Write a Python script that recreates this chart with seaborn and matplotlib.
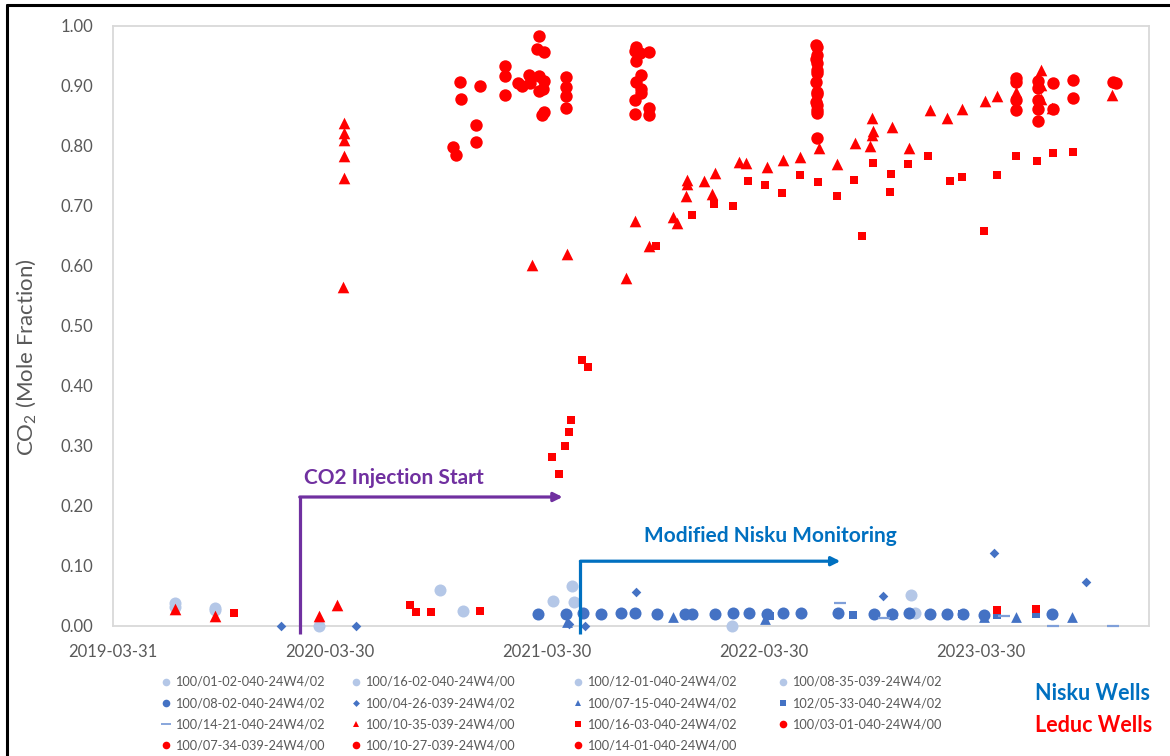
import matplotlib
matplotlib.use("Agg")
import matplotlib.pyplot as plt
from matplotlib.lines import Line2D
from matplotlib.ticker import FuncFormatter
import seaborn as sns
import pandas as pd
import numpy as np

# ---------------- data ----------------
# Nisku wells
W0102_D = ["2019-07-14", "2019-09-18", "2020-10-01", "2021-04-09", "2022-12-02"]
W0102_V = [0.038, 0.030, 0.060, 0.042, 0.052]
W1602_D = ["2019-07-14", "2019-09-18", "2020-11-08", "2021-05-11", "2022-12-09"]
W1602_V = [0.032, 0.027, 0.025, 0.067, 0.022]
W1201_D = ["2020-03-11", "2021-05-14"]
W1201_V = [0.000, 0.040]
W0835_D = ["2022-02-04"]
W0835_V = [0.000]
W0802_D = ["2021-03-14", "2021-05-01", "2021-05-30", "2021-06-28", "2021-08-02", "2021-08-24",
           "2021-10-01", "2021-11-16", "2021-11-28", "2022-01-06", "2022-02-06", "2022-03-04",
           "2022-04-04", "2022-05-01", "2022-05-31", "2022-08-01", "2022-10-01", "2022-10-31",
           "2022-11-28", "2023-01-03", "2023-02-01", "2023-02-28", "2023-04-04", "2023-07-27"]
W0802_V = [0.020, 0.020, 0.021, 0.020, 0.021, 0.021, 0.020, 0.020, 0.020, 0.020, 0.021, 0.021,
           0.020, 0.021, 0.021, 0.022, 0.020, 0.020, 0.021, 0.020, 0.020, 0.020, 0.019, 0.020]
W0426_D = ["2020-01-07", "2020-05-13", "2021-05-06", "2021-06-01", "2021-08-26", "2022-10-16",
           "2023-04-20", "2023-09-22"]
W0426_V = [0.000, 0.000, 0.003, 0.000, 0.057, 0.050, 0.122, 0.073]
W0715_D = ["2021-05-03", "2021-10-28", "2022-04-01", "2022-10-31", "2023-04-04", "2023-05-27",
           "2023-08-30"]
W0715_V = [0.007, 0.015, 0.012, 0.022, 0.015, 0.015, 0.015]
W0533_D = ["2022-04-08", "2022-08-01", "2022-08-26", "2023-02-26", "2023-04-25", "2023-06-30"]
W0533_V = [0.017, 0.022, 0.018, 0.020, 0.018, 0.020]
W1421_D = ["2022-08-04", "2022-10-18", "2023-05-08", "2023-07-29", "2023-11-07"]
W1421_V = [0.038, 0.013, 0.017, 0.000, 0.000]

# Leduc wells
W1035_D = ["2019-07-14", "2019-09-18", "2020-03-11", "2020-04-10",
           "2020-04-22", "2020-04-22", "2020-04-22", "2020-04-22", "2020-04-22", "2020-04-21",
           "2021-03-04", "2021-05-03", "2021-08-10", "2021-08-24", "2021-09-18", "2021-10-27",
           "2021-11-03", "2021-11-21", "2021-11-20", "2021-11-18", "2021-12-18", "2022-01-06",
           "2022-01-01", "2022-02-16", "2022-02-28", "2022-04-03", "2022-05-01", "2022-05-30",
           "2022-06-30", "2022-07-31", "2022-08-30", "2022-09-24", "2022-09-28", "2022-09-29",
           "2022-09-28", "2022-10-31", "2022-11-28", "2023-01-03", "2023-02-01", "2023-02-26",
           "2023-04-06", "2023-04-26", "2023-05-28", "2023-07-08", "2023-07-08", "2023-07-08",
           "2023-07-27", "2023-11-04"]
W1035_V = [0.028, 0.017, 0.017, 0.035,
           0.838, 0.822, 0.810, 0.783, 0.747, 0.565,
           0.602, 0.620, 0.580, 0.675, 0.634, 0.682,
           0.672, 0.743, 0.737, 0.717, 0.742, 0.755,
           0.720, 0.773, 0.772, 0.765, 0.777, 0.782,
           0.797, 0.770, 0.805, 0.800, 0.847, 0.825,
           0.818, 0.832, 0.797, 0.860, 0.847, 0.861,
           0.875, 0.883, 0.890, 0.927, 0.902, 0.878,
           0.863, 0.885]
W1603_D = ["2019-10-21", "2020-08-11", "2020-08-21", "2020-09-15", "2020-12-07", "2021-04-08",
           "2021-04-19", "2021-04-29", "2021-05-06", "2021-05-09", "2021-05-28", "2021-06-07",
           "2021-09-29", "2021-11-29", "2022-01-04", "2022-02-06", "2022-03-03", "2022-04-01",
           "2022-04-29", "2022-05-29", "2022-06-29", "2022-07-31", "2022-08-28", "2022-09-11",
           "2022-09-29", "2022-10-29", "2022-10-27", "2022-11-26", "2022-12-31", "2023-02-05",
           "2023-02-26", "2023-04-04", "2023-04-26", "2023-04-25", "2023-05-27", "2023-07-01",
           "2023-06-30", "2023-07-29", "2023-08-31"]
W1603_V = [0.022, 0.035, 0.023, 0.023, 0.025, 0.282,
           0.253, 0.300, 0.323, 0.343, 0.443, 0.432,
           0.633, 0.685, 0.703, 0.700, 0.742, 0.735,
           0.722, 0.752, 0.740, 0.717, 0.743, 0.650,
           0.772, 0.753, 0.723, 0.770, 0.783, 0.742,
           0.748, 0.658, 0.752, 0.027, 0.783, 0.775,
           0.028, 0.788, 0.790]
W0301_D = ["2022-06-25", "2022-06-27", "2022-06-26", "2022-06-25", "2022-06-26", "2022-06-27",
           "2022-06-26", "2022-06-25", "2022-06-26", "2022-06-27", "2022-06-25", "2022-06-27",
           "2022-06-26", "2022-06-27", "2022-06-27",
           "2023-05-28", "2023-05-28", "2023-05-28", "2023-05-28", "2023-07-03", "2023-07-03",
           "2023-07-03", "2023-07-03", "2023-07-03", "2023-07-29", "2023-07-29", "2023-09-01",
           "2023-09-01", "2023-11-07", "2023-11-12"]
W0301_V = [0.968, 0.965, 0.952, 0.945, 0.938, 0.927,
           0.921, 0.907, 0.890, 0.887, 0.873, 0.868,
           0.860, 0.855, 0.813,
           0.913, 0.907, 0.877, 0.860, 0.908, 0.897,
           0.877, 0.862, 0.842, 0.905, 0.862, 0.910,
           0.880, 0.907, 0.905]
W0734_D = ["2020-10-22", "2020-10-27", "2020-11-03", "2020-11-05", "2020-11-30", "2020-11-30",
           "2020-12-07", "2021-01-18", "2021-01-18", "2021-01-18", "2021-02-09", "2021-02-16",
           "2021-02-27", "2021-03-01"]
W0734_V = [0.798, 0.785, 0.907, 0.878, 0.835, 0.807,
           0.900, 0.933, 0.917, 0.885, 0.905, 0.900,
           0.918, 0.905]
W1027_D = ["2021-03-16", "2021-03-16", "2021-03-16", "2021-03-13", "2021-03-25", "2021-03-25",
           "2021-03-25", "2021-03-23", "2021-03-21", "2021-05-01", "2021-05-01", "2021-05-01",
           "2021-05-01"]
W1027_V = [0.983, 0.917, 0.892, 0.962, 0.957, 0.908,
           0.857, 0.895, 0.852, 0.915, 0.898, 0.883,
           0.863]
W1401_D = ["2021-08-24", "2021-08-24", "2021-08-24", "2021-08-26", "2021-08-26", "2021-08-26",
           "2021-09-02", "2021-09-03", "2021-09-03", "2021-09-03", "2021-09-17", "2021-09-18",
           "2021-09-18"]
W1401_V = [0.958, 0.877, 0.853, 0.965, 0.942, 0.907,
           0.955, 0.918, 0.895, 0.888, 0.863, 0.957,
           0.852]

WELL_NAMES = ["100/01-02-040-24W4/02", "100/16-02-040-24W4/00", "100/12-01-040-24W4/02",
              "100/08-35-039-24W4/02", "100/08-02-040-24W4/02", "100/04-26-039-24W4/02",
              "100/07-15-040-24W4/02", "102/05-33-040-24W4/02", "100/14-21-040-24W4/02",
              "100/10-35-039-24W4/00", "100/16-03-040-24W4/02", "100/03-01-040-24W4/00",
              "100/07-34-039-24W4/00", "100/10-27-039-24W4/00", "100/14-01-040-24W4/00"]
WELL_DATES = [W0102_D, W1602_D, W1201_D, W0835_D, W0802_D, W0426_D, W0715_D, W0533_D, W1421_D,
              W1035_D, W1603_D, W0301_D, W0734_D, W1027_D, W1401_D]
WELL_VALUES = [W0102_V, W1602_V, W1201_V, W0835_V, W0802_V, W0426_V, W0715_V, W0533_V, W1421_V,
               W1035_V, W1603_V, W0301_V, W0734_V, W1027_V, W1401_V]

X_TICKS = ["2019-03-31", "2020-03-30", "2021-03-30", "2022-03-30", "2023-03-30"]
X_MIN, X_MAX = "2019-03-31", "2024-01-06"
Y_TICKS = [0.0, 0.1, 0.2, 0.3, 0.4, 0.5, 0.6, 0.7, 0.8, 0.9, 1.0]

# ---------------- styles ----------------
LIGHT = "#B4C7E7"
DARK = "#4472C4"
DASH = "#7F9FD9"
RED = "#FF0000"
PURPLE = "#7030A0"
BLUE = "#0070C0"
GREY = "#595959"

STYLE = [
    dict(marker="o", color=LIGHT, s=75, lms=5.5),
    dict(marker="o", color=LIGHT, s=75, lms=5.5),
    dict(marker="o", color=LIGHT, s=75, lms=5.5),
    dict(marker="o", color=LIGHT, s=75, lms=5.5),
    dict(marker="o", color=DARK, s=75, lms=5.5),
    dict(marker="D", color=DARK, s=24, lms=3.5),
    dict(marker="^", color=DARK, s=60, lms=5),
    dict(marker="s", color=DARK, s=40, lms=5),
    dict(marker="_", color=DASH, s=80, lms=7),
    dict(marker="^", color=RED, s=70, lms=5),
    dict(marker="s", color=RED, s=34, lms=4.5),
    dict(marker="o", color=RED, s=80, lms=5.5),
    dict(marker="o", color=RED, s=80, lms=5.5),
    dict(marker="o", color=RED, s=80, lms=5.5),
    dict(marker="o", color=RED, s=80, lms=5.5),
]

sns.set_theme(style="white")
plt.rcParams["font.family"] = ["Lato", "DejaVu Sans"]

W, H = 1170, 756
fig = plt.figure(figsize=(W / 100, H / 100), dpi=100)
fig.patch.set_facecolor("white")
ax = fig.add_axes([113 / W, 130 / H, 1036 / W, 600 / H])

for name, d, v, st in zip(WELL_NAMES, WELL_DATES, WELL_VALUES, STYLE):
    df = pd.DataFrame({"date": pd.to_datetime(d), "co2": v})
    kw = dict(linewidth=0)
    if st["marker"] == "_":
        kw = dict(linewidth=1.6, edgecolor=st["color"])
    sns.scatterplot(data=df, x="date", y="co2", marker=st["marker"], color=st["color"],
                    s=st["s"], ax=ax, legend=False, clip_on=False, zorder=3, **kw)

ax.set_xlim(pd.Timestamp(X_MIN), pd.Timestamp(X_MAX))
ax.set_ylim(0, 1.0)
ax.set_yticks(Y_TICKS)
ax.yaxis.set_major_formatter(FuncFormatter(lambda v, p: f"{v:.2f}"))
ax.set_xticks(pd.to_datetime(X_TICKS))
ax.set_xticklabels(X_TICKS)
ax.tick_params(axis="both", length=0, colors=GREY, labelsize=12)
ax.tick_params(axis="y", pad=14)
ax.tick_params(axis="x", pad=13)
ax.grid(False)
for sp in ax.spines.values():
    sp.set_color("#D9D9D9")
    sp.set_linewidth(1.3)
ax.set_xlabel("")
ax.set_ylabel("CO$_\\mathregular{2}$ (Mole Fraction)", fontsize=16, color=GREY)
ax.yaxis.set_label_coords(-74 / 1036, 0.448)

# ---------------- annotations ----------------
INJ_X, INJ_END, INJ_Y, INJ_TXT = pd.Timestamp("2020-02-08"), pd.Timestamp("2021-04-25"), 0.215, pd.Timestamp("2020-02-16")
MON_X, MON_END, MON_Y, MON_TXT = pd.Timestamp("2021-05-25"), pd.Timestamp("2022-08-05"), 0.108, pd.Timestamp("2021-09-09")

ax.plot([INJ_X, INJ_X], [-0.013, INJ_Y + 0.002], color=PURPLE, lw=2.3, clip_on=False,
        solid_capstyle="butt", zorder=4)
ax.annotate("", xy=(INJ_END, INJ_Y), xytext=(INJ_X, INJ_Y),
            arrowprops=dict(arrowstyle="-|>", color=PURPLE, lw=2.3, mutation_scale=13,
                            shrinkA=0, shrinkB=0), zorder=4)
ax.text(INJ_TXT, 0.247, "CO2 Injection Start", color=PURPLE, fontsize=15,
        fontweight="bold", va="center", ha="left")

ax.plot([MON_X, MON_X], [-0.013, MON_Y + 0.002], color=BLUE, lw=2.3, clip_on=False,
        solid_capstyle="butt", zorder=4)
ax.annotate("", xy=(MON_END, MON_Y), xytext=(MON_X, MON_Y),
            arrowprops=dict(arrowstyle="-|>", color=BLUE, lw=2.3, mutation_scale=13,
                            shrinkA=0, shrinkB=0), zorder=4)
ax.text(MON_TXT, 0.150, "Modified Nisku Monitoring", color=BLUE, fontsize=15,
        fontweight="bold", va="center", ha="left")

# ---------------- legend (4 columns, row-major order) ----------------
handles = [Line2D([], [], linestyle="none", marker=st["marker"], color=st["color"],
                  markersize=st["lms"], markeredgewidth=(1.3 if st["marker"] == "_" else 0))
           for st in STYLE]
col_x = [166, 356, 578, 783]
for c, x in enumerate(col_x):
    idx = list(range(c, len(WELL_NAMES), 4))
    fig.legend([handles[i] for i in idx], [WELL_NAMES[i] for i in idx], loc="upper left",
               bbox_to_anchor=((x - 5) / W, 1 - 676 / H), frameon=False, fontsize=9.2,
               handlelength=0.8, handletextpad=0.3, labelspacing=0.72, borderpad=0,
               borderaxespad=0, labelcolor=GREY)

fig.text(1035 / W, 1 - 694 / H, "Nisku Wells", color=BLUE, fontsize=15.5, fontweight="bold",
         va="center", ha="left")
fig.text(1035 / W, 1 - 726 / H, "Leduc Wells", color=RED, fontsize=15.5, fontweight="bold",
         va="center", ha="left")

# outer frame (left and top edges visible in reference)
fig.add_artist(Line2D([7 / W, 7 / W], [0, 1 - 5 / H], color="black", lw=2.2,
                      transform=fig.transFigure))
fig.add_artist(Line2D([7 / W, 1], [1 - 5 / H, 1 - 5 / H], color="black", lw=2.2,
                      transform=fig.transFigure))

fig.savefig("out.png", dpi=100)
